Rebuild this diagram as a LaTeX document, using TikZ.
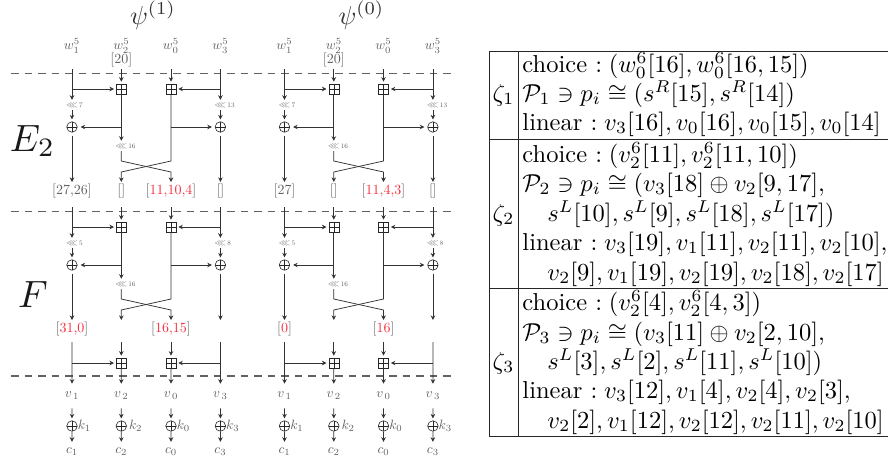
\documentclass[tikz,border=0pt]{standalone}
\usepackage{amsmath,amssymb}
\usetikzlibrary{arrows.meta}
\definecolor{lbl}{gray}{0.38}
\definecolor{hot}{RGB}{245,45,60}
\tikzset{
  conn/.style={draw=black!80,line width=0.75pt,-{Stealth[length=4.6pt,width=4.6pt]}},
  gapped/.style={shorten >=2pt},
  boxadd/.style={draw=black!85,line width=0.6pt,minimum size=10pt,inner sep=0pt,rectangle,
    path picture={\draw[line width=0.5pt] (path picture bounding box.north)--(path picture bounding box.south)
      (path picture bounding box.west)--(path picture bounding box.east);}},
  xorop/.style={draw=black!85,line width=0.6pt,minimum size=10.5pt,inner sep=0pt,circle,
    path picture={\draw[line width=0.5pt] (path picture bounding box.north)--(path picture bounding box.south)
      (path picture bounding box.west)--(path picture bounding box.east);}},
  rotlab/.style={scale=0.85,inner sep=0pt,minimum height=11.8pt,text=lbl},
  varlab/.style={scale=1.35,inner sep=0pt,text=lbl},
  bitlab/.style={scale=1.4,inner sep=0pt,text=lbl,minimum height=12.9pt},
  tbl/.style={anchor=base west,scale=2.45,inner sep=0pt,text=black},
  zet/.style={anchor=base,scale=2.45,inner sep=0pt,text=black},
  head/.style={scale=2.6,inner sep=0pt,text=black!80},
  big/.style={scale=3.8,inner sep=0pt,text=black!90},
  cut/.style={draw=black!62,line width=1.3pt,dash pattern=on 7.5pt off 6pt},
  rule/.style={draw=black!85,line width=0.9pt},
}
\newcommand{\rotn}[1]{$\lll$\rlap{\,\footnotesize #1}}
\newcommand{\hot}[1]{\textcolor{hot}{#1}}
\newcommand{\colgap}{\hspace{-1.7pt}}
% one half-round, y shift #2, rotations #3 and #4
\newcommand{\halfround}[4]{%
  \begin{scope}[shift={(0,#2)}]
    \coordinate (#1s1) at (0,69);
    \coordinate (#1s2) at (49.3,69);
    \coordinate (#1s3) at (99,69);
    \coordinate (#1s4) at (148.4,69);
    \node[boxadd] (#1b2) at (49.3,89) {};
    \node[boxadd] (#1b3) at (99,89) {};
    \node[rotlab] (#1r1) at (0,105) {\rotn{#3}};
    \node[rotlab] (#1r4) at (148.4,105) {\rotn{#4}};
    \node[rotlab] (#1r2) at (49.3,146) {\rotn{16}};
    \node[xorop] (#1x1) at (0,127) {};
    \node[xorop] (#1x4) at (148.4,127) {};
    \coordinate (#1u2) at (49.3,161);
    \coordinate (#1u3) at (99,161);
    \coordinate (#1d2) at (49.3,172);
    \coordinate (#1d3) at (99,172);
    \coordinate (#1e1) at (0,182);
    \coordinate (#1e2) at (49.3,182);
    \coordinate (#1e3) at (99,182);
    \coordinate (#1e4) at (148.4,182);
    \draw[conn] (#1s1) -- (#1r1);
    \draw[conn] (#1s4) -- (#1r4);
    \draw[conn,gapped] (#1s2) -- (#1b2);
    \draw[conn,gapped] (#1s3) -- (#1b3);
    \draw[conn,gapped] (#1s1 |- #1b2) -- (#1b2);
    \draw[conn,gapped] (#1s4 |- #1b3) -- (#1b3);
    \draw[conn,gapped] (#1r1) -- (#1x1);
    \draw[conn,gapped] (#1r4) -- (#1x4);
    \draw[conn] (#1b2) -- (#1r2);
    \draw[conn,shorten >=3pt] (#1b2 |- #1x1) -- (#1x1);
    \draw[conn,shorten >=3pt] (#1b3 |- #1x4) -- (#1x4);
    \draw[conn,shorten <=3pt] (#1x1) -- (#1e1);
    \draw[conn,shorten <=3pt] (#1x4) -- (#1e4);
    \draw[conn] (#1r2) -- (#1u2) -- (#1d3) -- (#1e3);
    \draw[conn] (#1b3) -- (#1u3) -- (#1d2) -- (#1e2);
  \end{scope}}
% one whole cipher column group
\newcommand{\cipherpart}[8]{%
  \begin{scope}[shift={(#2,0)}]
    \node[head] (#1t) at (#8,15) {$\psi^{(#3)}$};
    \node[varlab] (#1w1) at (0,46) {$w_1^5$};
    \node[varlab] (#1w2) at (49.3,46) {$w_2^5$};
    \node[varlab] (#1w3) at (99,46) {$w_0^5$};
    \node[varlab] (#1w4) at (148.4,46) {$w_3^5$};
    \node[bitlab] at (49.3,60) {[20]};
    \halfround{#1a}{0}{7}{13}
    \node[bitlab] (#1l1) at (0,191) {#4};
    \node[bitlab] (#1l2) at (49.3,191) {[]};
    \node[bitlab] (#1l3) at (99,191) {[\hot{#5}]};
    \node[bitlab] (#1l4) at (148.4,191) {[]};
    \halfround{#1b}{138}{5}{8}
    \node[bitlab] (#1m1) at (0,329) {[\hot{#6}]};
    \node[bitlab] (#1m3) at (99,329) {[\hot{#7}]};
    \coordinate (#1f1) at (0,342);
    \coordinate (#1f2) at (49.3,342);
    \coordinate (#1f3) at (99,342);
    \coordinate (#1f4) at (148.4,342);
    \node[boxadd] (#1g2) at (49.3,363) {};
    \node[boxadd] (#1g3) at (99,363) {};
    \node[varlab,minimum height=17.8pt] (#1v1) at (0,396) {$v_{\,1}$};
    \node[varlab,minimum height=17.8pt] (#1v2) at (49.3,396) {$v_{\,2}$};
    \node[varlab,minimum height=17.8pt] (#1v3) at (99,396) {$v_{\,0}$};
    \node[varlab,minimum height=17.8pt] (#1v4) at (148.4,396) {$v_{\,3}$};
    \node[xorop] (#1k1) at (0,426) {};
    \node[xorop] (#1k2) at (49.3,426) {};
    \node[xorop] (#1k3) at (99,426) {};
    \node[xorop] (#1k4) at (148.4,426) {};
    \node[varlab,anchor=west] at (#1k1.east) {$k_1$};
    \node[varlab,anchor=west,xshift=1.5pt] at (#1k2.east) {$k_2$};
    \node[varlab,anchor=west] at (#1k3.east) {$k_0$};
    \node[varlab,anchor=west] at (#1k4.east) {$k_3$};
    \node[varlab,minimum height=14.7pt] (#1c1) at (0,452) {$c_1$};
    \node[varlab,minimum height=14.7pt] (#1c2) at (49.3,452) {$c_2$};
    \node[varlab,minimum height=14.7pt] (#1c3) at (99,452) {$c_0$};
    \node[varlab,minimum height=14.7pt] (#1c4) at (148.4,452) {$c_3$};
    \draw[conn] (#1f1) -- (#1v1);
    \draw[conn] (#1f4) -- (#1v4);
    \draw[conn,gapped] (#1f2) -- (#1g2);
    \draw[conn,gapped] (#1f3) -- (#1g3);
    \draw[conn,gapped] (#1f1 |- #1g2) -- (#1g2);
    \draw[conn,gapped] (#1f4 |- #1g3) -- (#1g3);
    \draw[conn] (#1g2) -- (#1v2);
    \draw[conn] (#1g3) -- (#1v3);
    \foreach \i in {1,2,3,4}{
      \draw[conn,gapped] (#1v\i) -- (#1k\i);
      \draw[conn] (#1k\i) -- (#1c\i);
    }
  \end{scope}}
\begin{document}
\begin{tikzpicture}[x=1pt,y=-1pt]
\useasboundingbox (0,0) rectangle (888,466);
% section lines
\coordinate (cutaL) at (11,73.5);
\coordinate (cutaR) at (452,73.5);
\coordinate (cutbL) at (11,211.5);
\coordinate (cutbR) at (452,211.5);
\coordinate (cutcL) at (11,376);
\coordinate (cutcR) at (452,376);
\draw[cut] (cutaL) -- (cutaR);
\draw[cut] (cutbL) -- (cutbR);
\draw[cut] (cutcL) -- (cutcR);
\cipherpart{p}{72}{1}{[27,26]}{11,10,4}{31,0}{16,15}{81}
\cipherpart{q}{284.5}{0}{[27]}{11,4,3}{0}{16}{77}
\node[big] (labE) at (32.5,141) {$E_2$};
\node[big] (labF) at (33,295) {$F$};
% table
\coordinate (tl) at (489,51);
\coordinate (tr) at (888,51);
\coordinate (ml) at (489,139);
\coordinate (mr) at (888,139);
\coordinate (nl) at (489,288);
\coordinate (nr) at (888,288);
\coordinate (bl) at (489,436);
\coordinate (br) at (888,436);
\coordinate (vt) at (518,51);
\coordinate (vb) at (518,436);
\draw[rule] (tl)--(tr) (ml)--(mr) (nl)--(nr) (bl)--(br) (tl)--(bl) (vt)--(vb);
\node[zet] (z1) at (503.5,101) {$\zeta_1$};
\node[zet] (z2) at (503.5,221) {$\zeta_2$};
\node[zet] (z3) at (503.5,369) {$\zeta_3$};
\node[tbl] (a1) at (522,72) {choice :\colgap{} $(w_0^6[16],w_0^6[16,15])$};
\node[tbl] (a2) at (522,101) {$\mathcal{P}_1\ni p_i\cong(s^R[15],s^R[14])$};
\node[tbl] (a3) at (522,130) {linear :\colgap{} $v_3[16],v_0[16],v_0[15],v_0[14]$};
\node[tbl] (b1) at (522,162) {choice :\colgap{} $(v_2^6[11],v_2^6[11,10])$};
\node[tbl] (b2) at (522,191) {$\mathcal{P}_2\ni p_i\cong(v_3[18]\oplus v_2[9,17],$};
\node[tbl] (b3) at (547,221) {$s^L[10],s^L[9],s^L[18],s^L[17])$};
\node[tbl] (b4) at (522,250) {linear :\colgap{} $v_3[19],v_1[11],v_2[11],v_2[10],$};
\node[tbl] (b5) at (547,280) {$v_2[9],v_1[19],v_2[19],v_2[18],v_2[17]$};
\node[tbl] (c1) at (522,310) {choice :\colgap{} $(v_2^6[4],v_2^6[4,3])$};
\node[tbl] (c2) at (522,340) {$\mathcal{P}_3\ni p_i\cong(v_3[11]\oplus v_2[2,10],$};
\node[tbl] (c3) at (547,369) {$s^L[3],s^L[2],s^L[11],s^L[10])$};
\node[tbl] (c4) at (522,398) {linear :\colgap{} $v_3[12],v_1[4],v_2[4],v_2[3],$};
\node[tbl] (c5) at (547,428) {$v_2[2],v_1[12],v_2[12],v_2[11],v_2[10]$};
\end{tikzpicture}
\end{document}
